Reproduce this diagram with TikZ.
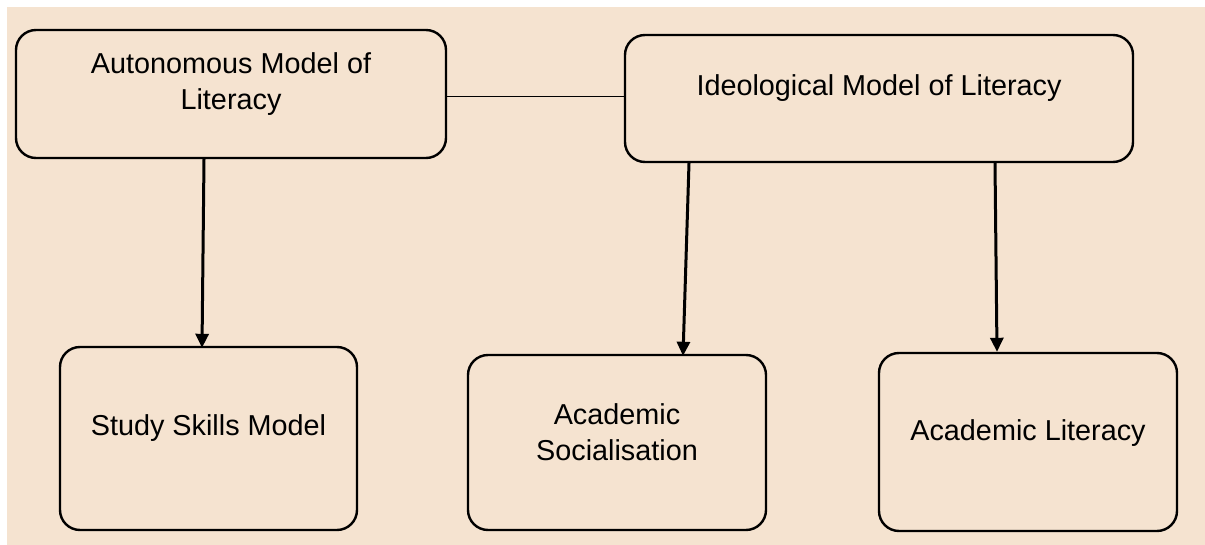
\documentclass[tikz,border=0pt]{standalone}
\usepackage{fontspec}
\setmainfont{Liberation Sans}
\usetikzlibrary{arrows.meta,calc}
\definecolor{bg}{HTML}{F5E3D0}
\begin{document}
\begin{tikzpicture}[x=1pt,y=-1pt,
  box/.style={draw=black,line width=2.4pt,rounded corners=20pt,inner sep=0pt},
  txt/.style={align=center,inner sep=0pt,font=\fontsize{28.8}{36}\selectfont},
  arr/.style={line width=3pt,-{Triangle[width=13pt,length=14pt]}}]
\useasboundingbox (0,0) rectangle (1205,545);
\fill[bg] (7,7) rectangle (1205,545);
\node[box,minimum width=430pt,minimum height=128pt] (auto) at (231,94) {};
\node[box,minimum width=508pt,minimum height=127pt] (ideo) at (879,98.5) {};
\node[box,minimum width=297pt,minimum height=183pt] (study) at (208.5,438.5) {};
\node[box,minimum width=298pt,minimum height=175pt] (soc) at (617,442.5) {};
\node[box,minimum width=298pt,minimum height=178pt] (lit) at (1028,442) {};
\node[txt] (autot) at (231,84) {Autonomous Model of\\Literacy};
\node[txt] (ideot) at (879,88) {Ideological Model of Literacy};
\node[txt] (studyt) at (208.5,428) {Study Skills Model};
\node[txt] (soct) at (617,432) {Academic\\Socialisation};
\node[txt] (litt) at (1028,433) {Academic Literacy};
\draw[line width=1pt] ([yshift=-3pt]auto.east) -- ([yshift=1.5pt]ideo.west);
\draw[arr] ([xshift=-27pt]auto.south) -- ([xshift=-6.5pt,yshift=-2pt]study.north);
\draw[arr] ([xshift=-190pt]ideo.south) -- ([xshift=66pt,yshift=-2pt]soc.north);
\draw[arr] ([xshift=116pt]ideo.south) -- ([xshift=-31pt]lit.north);
\end{tikzpicture}
\end{document}
